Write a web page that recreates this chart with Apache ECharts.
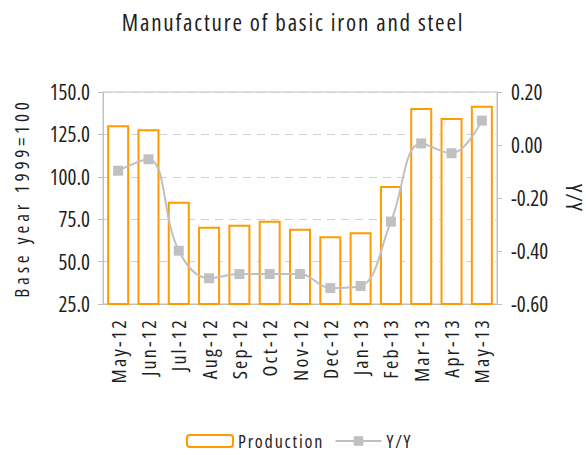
<!DOCTYPE html>
<html>
<head>
<meta charset="utf-8">
<script src="https://cdn.jsdelivr.net/npm/echarts@6/dist/echarts.min.js"></script>
<style>
  html, body { margin: 0; padding: 0; background: #fff; }
  #chart { width: 586px; height: 455px; }
  /* narrow, spaced-out lettering like the original */
  #chart svg text { font-stretch: 75% !important; }
  #chart svg text[style*="23px"] { letter-spacing: 1.8px; }
  #chart svg text[style*="20px"] { letter-spacing: 2.2px; }
  #chart svg text[style*="19px"] { letter-spacing: 3.8px; }
  #chart svg text[style*="18px"] { letter-spacing: 1.8px; }
  #chart svg text[style*="22px"] { letter-spacing: 1px; }
</style>
</head>
<body>
<div id="chart"></div>
<script>
// data
var months = ['May-12', 'Jun-12', 'Jul-12', 'Aug-12', 'Sep-12', 'Oct-12', 'Nov-12',
  'Dec-12', 'Jan-13', 'Feb-13', 'Mar-13', 'Apr-13', 'May-13'];
var production = [130.4, 128.0, 85.3, 70.6, 71.8, 74.1, 69.4, 65.0, 67.3, 94.6, 140.6, 134.7, 141.9];
var yoy = [-0.097, -0.054, -0.399, -0.503, -0.487, -0.487, -0.487, -0.540, -0.532, -0.289, 0.006, -0.031, 0.092];

var font = '"Open Sans", "Noto Sans", sans-serif';
var orange = '#ff9a00';
var grey = '#c0c0c0';
var ink = '#1e1e1e';

var chart = echarts.init(document.getElementById('chart'), null, { renderer: 'svg' });
var option = {
  animation: false,
  textStyle: { fontFamily: font, color: ink },
  title: {
    text: 'Manufacture of basic iron and steel',
    left: 'center',
    top: 5,
    textStyle: { fontFamily: font, fontSize: 23, fontWeight: 'normal', color: ink }
  },
  legend: {
    top: 427,
    left: 181,
    itemWidth: 46,
    itemHeight: 12,
    itemGap: 4,
    textStyle: { fontFamily: font, fontSize: 18, color: ink },
    data: ['Production', 'Y/Y']
  },
  grid: {
    left: 103, right: 89, top: 92, bottom: 151,
    outerBoundsMode: 'none',
    containLabel: false,
    show: true, borderColor: grey, borderWidth: 1
  },
  xAxis: {
    type: 'category',
    data: months,
    axisLine: { onZero: false, lineStyle: { color: grey } },
    axisTick: { lineStyle: { color: grey }, length: 5 },
    axisLabel: { rotate: 90, margin: 14, fontSize: 20, color: ink, fontFamily: font, interval: 0 }
  },
  yAxis: [
    {
      type: 'value',
      min: 25, max: 150, interval: 25,
      name: 'Base year 1999=100',
      nameLocation: 'middle',
      nameGap: 72,
      nameMoveOverlap: false,
      nameTextStyle: { fontSize: 19, color: ink, fontFamily: font },
      axisLine: { show: true, lineStyle: { color: grey } },
      axisTick: { show: true, length: 5, lineStyle: { color: grey } },
      axisLabel: { formatter: function (v) { return v.toFixed(1); }, fontSize: 21, color: ink, margin: 13, fontFamily: font },
      splitLine: { lineStyle: { color: '#d0d0d0', type: [8, 6] } }
    },
    {
      type: 'value',
      min: -0.6, max: 0.2, interval: 0.2,
      name: 'Y/Y',
      nameLocation: 'middle',
      nameRotate: -90,
      nameGap: 67,
      nameMoveOverlap: false,
      nameTextStyle: { fontSize: 22, color: ink, fontFamily: font },
      axisLine: { show: true, lineStyle: { color: grey } },
      axisTick: { show: true, length: 5, lineStyle: { color: grey } },
      axisLabel: { formatter: function (v) { return v.toFixed(2); }, fontSize: 21, color: ink, margin: 14, fontFamily: font },
      splitLine: { show: false }
    }
  ],
  series: [
    {
      name: 'Production',
      type: 'bar',
      data: production,
      barWidth: 22,
      itemStyle: { color: '#fff', borderColor: orange, borderWidth: 2 }
    },
    {
      name: 'Y/Y',
      type: 'line',
      yAxisIndex: 1,
      data: yoy,
      smooth: 0.4,
      symbol: 'rect',
      symbolSize: 10,
      lineStyle: { color: grey, width: 2 },
      itemStyle: { color: grey }
    }
  ]
};
chart.setOption(option);
</script>
</body>
</html>
